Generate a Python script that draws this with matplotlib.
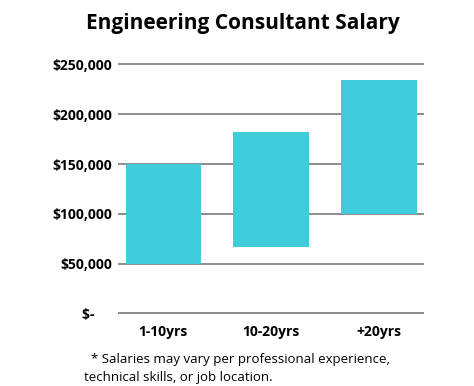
import matplotlib
matplotlib.use("Agg")
from matplotlib import pyplot as plt
from matplotlib.ticker import FuncFormatter

# Salary ranges per experience band
categories = ["1-10yrs", "10-20yrs", "+20yrs"]
low_salary = [50000, 67000, 100000]
high_salary = [150000, 182000, 234000]
y_ticks = [0, 50000, 100000, 150000, 200000, 250000]

plt.rcParams["font.family"] = ["Open Sans", "DejaVu Sans"]

fig = plt.figure(figsize=(4.74, 3.86), dpi=100)
ax = fig.add_axes([0.249, 0.184, 0.646, 0.653])

x_values = list(range(len(categories)))
heights = [h - l for l, h in zip(low_salary, high_salary)]
ax.bar(x_values, heights, bottom=low_salary, width=0.70, color="#41CCDB", zorder=3)


def money(value, _pos):
    if value == 0:
        return "$-     "
    return "${:,.0f}".format(value)


ax.set_yticks(y_ticks)
ax.yaxis.set_major_formatter(FuncFormatter(money))
ax.set_ylim(-1500, 251500)
ax.set_xlim(-0.42, 2.42)
ax.set_xticks(x_values)
ax.set_xticklabels(categories)

ax.yaxis.grid(True, color="#8c8c8c", linewidth=1.4, zorder=0)
for spine in ax.spines.values():
    spine.set_visible(False)
ax.tick_params(axis="both", length=0, labelsize=10)
ax.tick_params(axis="y", pad=4)
ax.tick_params(axis="x", pad=7)
for label in ax.get_xticklabels() + ax.get_yticklabels():
    label.set_fontweight("bold")

fig.text(0.513, 0.94, "Engineering Consultant Salary", ha="center", va="center",
         fontsize=15, fontweight="bold")
fig.text(0.177, 0.046, "  * Salaries may vary per professional experience,\ntechnical skills, or job location.",
         ha="left", va="center", fontsize=9.5, linespacing=1.5)

fig.savefig("out.png", dpi=100)
